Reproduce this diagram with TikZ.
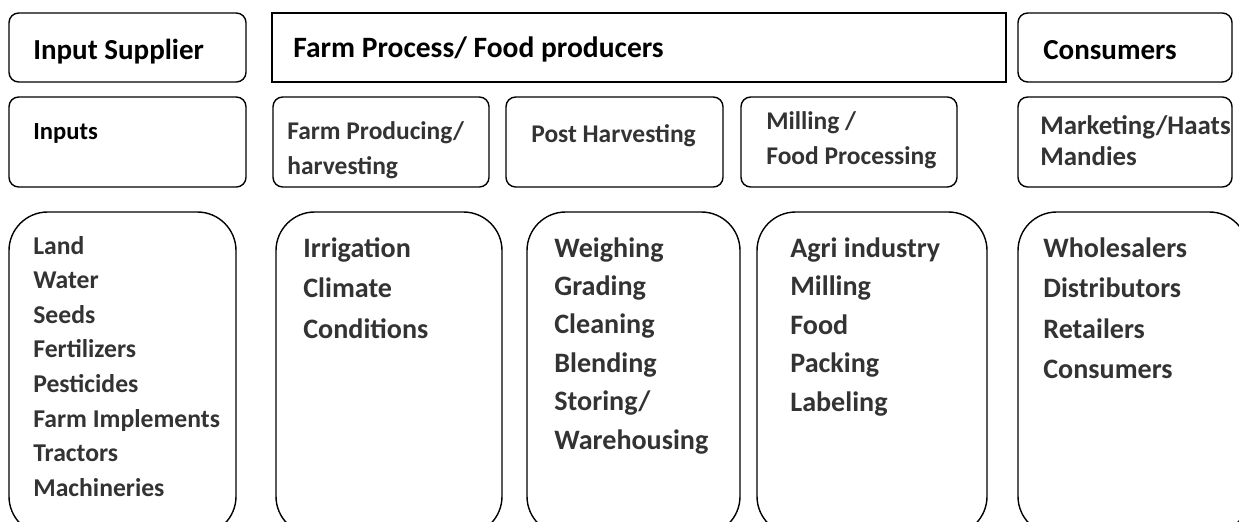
\documentclass[tikz,border=0pt]{standalone}
\usepackage{fontspec}
\setmainfont{Carlito}
\usepackage{tikz}
\definecolor{inkgray}{HTML}{333333}

\begin{document}
\begin{tikzpicture}[x=0.02cm, y=-0.02cm,
    frame/.style={line width=0.8pt, rounded corners=5.5pt},
    pod/.style={line width=0.8pt, rounded corners=22pt},
    head/.style={anchor=base west, inner sep=0pt, font=\bfseries\fontsize{16.5}{20}\selectfont},
    stage/.style={anchor=base west, inner sep=0pt, text=inkgray, font=\bfseries\fontsize{14.5}{18}\selectfont},
    item/.style={anchor=base west, inner sep=0pt, text=inkgray, font=\bfseries\fontsize{16}{19}\selectfont}]
  \useasboundingbox (0,0) rectangle (1239,521);
  \clip (0,0) rectangle (1239,521);

  % header row
  \draw[frame] (9,13) rectangle (246,82);
  \draw[line width=0.8pt] (272,13) rectangle (1006,82);
  \draw[frame] (1018,13) rectangle (1232,82);
  \node[head] (supplier) at (33,59) {Input Supplier};
  \node[head, font=\bfseries\fontsize{16.8}{20}\selectfont] (producers) at (293,57) {Farm Process/ Food producers};
  \node[head] (consumers) at (1043,59) {Consumers};

  % stage row
  \draw[frame] (9,97) rectangle (246,187);
  \draw[frame] (273,97) rectangle (489,187);
  \draw[frame] (506,97) rectangle (723,187);
  \draw[frame] (741,97) rectangle (957,187);
  \draw[frame] (1018,97) rectangle (1232,187);
  \node[stage, text=black, font=\bfseries\fontsize{14}{18}\selectfont] (inputs) at (33,139) {Inputs};
  \node[stage] (producing) at (287,139) {Farm Producing/};
  \node[stage] (harvesting) at (287,174) {harvesting};
  \node[stage] (postharvest) at (531,142) {Post Harvesting};
  \node[stage] (milling) at (766,129) {Milling /};
  \node[stage] (processing) at (766,164) {Food Processing};
  \node[stage, font=\bfseries\fontsize{15.3}{18}\selectfont] (marketing) at (1040,134) {Marketing/Haats};
  \node[stage, font=\bfseries\fontsize{15.3}{18}\selectfont] (mandies) at (1040,165) {Mandies};

  % lists, running past the lower edge
  \foreach \x/\w in {9/236, 276/502, 527/740, 757/987, 1018/1248}
    \draw[pod] (\x,212) rectangle (\w,535);
  \foreach \t [count=\i] in {Land,Water,Seeds,Fertilizers,Pesticides,Farm Implements,Tractors,Machineries}
    \node[item, font=\bfseries\fontsize{14.6}{18}\selectfont] (input\i) at (33,{254+34.6*(\i-1)}) {\t};
  \foreach \t [count=\i] in {Irrigation,Climate,Conditions}
    \node[item] (farm\i) at (303,{257+40.5*(\i-1)}) {\t};
  \foreach \t [count=\i] in {Weighing,Grading,Cleaning,Blending,Storing/,Warehousing}
    \node[item] (post\i) at (554,{257+38.4*(\i-1)}) {\t};
  \foreach \t [count=\i] in {Agri industry,Milling,Food,Packing,Labeling}
    \node[item] (mill\i) at (790,{257+38.5*(\i-1)}) {\t};
  \foreach \t [count=\i] in {Wholesalers,Distributors,Retailers,Consumers}
    \node[item] (market\i) at (1043,{257+40.6*(\i-1)}) {\t};
\end{tikzpicture}
\end{document}
